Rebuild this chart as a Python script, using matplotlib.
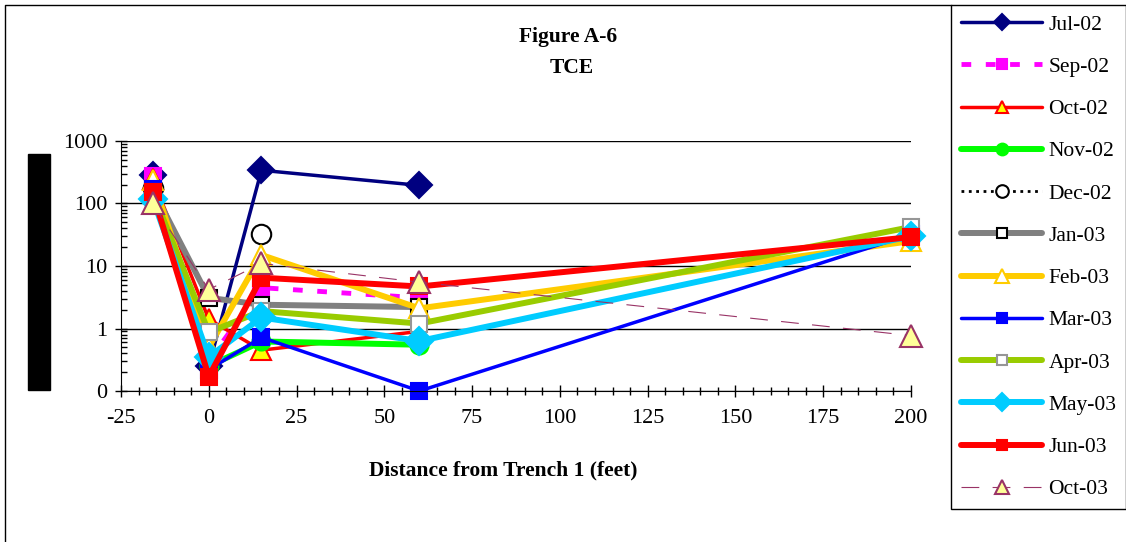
import numpy as np
import matplotlib.pyplot as plt
from matplotlib.ticker import MultipleLocator, LogLocator, NullFormatter, FixedLocator, FixedFormatter
from matplotlib.lines import Line2D
from matplotlib.patches import Rectangle

plt.rcParams['font.family'] = ['Liberation Serif', 'DejaVu Serif']
plt.rcParams['axes.unicode_minus'] = False

nan = np.nan
distance = [-16, 0, 15, 60, 200]
labels = ['Jul-02', 'Sep-02', 'Oct-02', 'Nov-02', 'Dec-02', 'Jan-03',
          'Feb-03', 'Mar-03', 'Apr-03', 'May-03', 'Jun-03', 'Oct-03']
jul02 = [290, 0.25, 340, 195, nan]
sep02 = [280, 0.3, 4.5, 3.1, nan]
oct02 = [250, 1.4, 0.45, 0.9, nan]
nov02 = [180, 0.25, 0.62, 0.55, nan]
dec02 = [175, nan, 32, nan, nan]
jan03 = [170, 3.1, 2.4, 2.2, nan]
feb03 = [240, 0.5, 15, 2.1, 25]
mar03 = [170, 0.22, 0.72, 0.1, 32]
apr03 = [150, 0.87, 1.9, 1.2, 42]
may03 = [120, 0.35, 1.5, 0.63, 30]
jun03 = [150, 0.17, 6.5, 4.7, 29]
oct03 = [100, 4.2, 11, 5.5, 0.77]
series = [jul02, sep02, oct02, nov02, dec02, jan03, feb03, mar03, apr03, may03, jun03, oct03]

# color, linewidth, linestyle, marker, markersize, marker face, marker edge
styles = [
    ('#000080', 2.5, '-', 'D', 13, '#000080', '#000080'),
    ('#FF00FF', 3.5, (0, (2, 3)), 's', 12, '#FF00FF', '#FF00FF'),
    ('#FF0000', 2.5, '-', '^', 14, '#FFFF00', '#FF0000'),
    ('#00FF00', 4.3, '-', 'o', 13, '#00FF00', '#00FF00'),
    ('#000000', 2.0, ':', 'o', 14, 'white', '#000000'),
    ('#808080', 4.3, '-', 's', 11, 'white', '#000000'),
    ('#FFCC00', 4.3, '-', '^', 15, 'white', '#FFCC00'),
    ('#0000FF', 2.5, '-', 's', 11, '#0000FF', '#0000FF'),
    ('#99CC00', 4.3, '-', 's', 11, 'white', '#969696'),
    ('#00CCFF', 4.3, '-', 'D', 14, '#00CCFF', '#00CCFF'),
    ('#FF0000', 4.3, '-', 's', 12, '#FF0000', '#FF0000'),
    ('#993366', 0.8, (0, (16, 12)), '^', 16, '#FFFF99', '#993366'),
]

fig = plt.figure(figsize=(11.26, 5.42), dpi=100)
ax = fig.add_axes([121/1126, 1 - 391/542, (911 - 121)/1126, (391 - 141)/542])

handles = []
for vals, lab, st in zip(series, labels, styles):
    c, lw, ls, m, ms, mfc, mec = st
    # missing values (nan) leave gaps, as in the original spreadsheet chart
    h, = ax.plot(distance, vals, color=c, lw=lw, ls=ls, marker=m, ms=ms, mfc=mfc,
                 mec=mec, mew=1.5, label=lab, clip_on=False, solid_capstyle='round')
    handles.append(h)

ax.set_yscale('log')
ax.set_ylim(0.1, 1000)
ax.set_xlim(-25, 200)
ax.yaxis.set_major_locator(FixedLocator([0.1, 1, 10, 100, 1000]))
ax.yaxis.set_major_formatter(FixedFormatter(['0', '1', '10', '100', '1000']))
ax.yaxis.set_minor_locator(LogLocator(base=10, subs=np.arange(2, 10)))
ax.yaxis.set_minor_formatter(NullFormatter())
ax.xaxis.set_major_locator(MultipleLocator(25))
ax.xaxis.set_minor_locator(MultipleLocator(5))
ax.tick_params(axis='both', which='major', direction='inout', length=8, width=1,
               labelsize=16, colors='black')
ax.tick_params(axis='y', which='minor', direction='in', length=4, width=1)
ax.tick_params(axis='x', which='minor', direction='inout', length=6, width=1)
ax.tick_params(axis='x', which='major', pad=9)
ax.tick_params(axis='y', which='major', pad=6)
ax.grid(axis='y', which='major', color='black', lw=1)
ax.spines['top'].set_visible(False)
ax.spines['right'].set_visible(False)
ax.set_axisbelow(True)

fig.text(568/1126, 1 - 37/542, 'Figure A-6', ha='center', va='center',
         fontsize=15.5, fontweight='bold')
fig.text(572/1126, 1 - 68/542, 'TCE', ha='center', va='center',
         fontsize=15.5, fontweight='bold')
fig.text(503/1126, 1 - 470/542, 'Distance from Trench 1 (feet)', ha='center',
         va='center', fontsize=15.5, fontweight='bold')

# covered axis title
fig.patches.append(Rectangle((28/1126, 1 - 390/542), 22/1126, 236/542,
                             transform=fig.transFigure, color='black'))
# chart border
fig.lines.append(Line2D([5/1126, 5/1126, 951/1126], [0, 1 - 5/542, 1 - 5/542],
                        transform=fig.transFigure, color='black', lw=1))

leg = fig.legend(handles, labels, loc='upper left',
                 bbox_to_anchor=(951/1126, 1 - 5/542), frameon=True,
                 fancybox=False, edgecolor='black', framealpha=1,
                 fontsize=15.5, markerscale=0.65, handlelength=3.8,
                 handletextpad=0.28, labelspacing=1.03, borderpad=0.45,
                 borderaxespad=0)
leg.get_frame().set_linewidth(1)

plt.savefig('out.png', dpi=100)
